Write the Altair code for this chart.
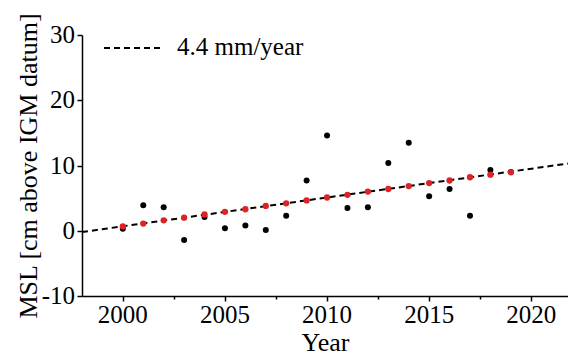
import altair as alt
import pandas as pd

years = list(range(2000, 2020))
msl_observed = [0.3, 3.9, 3.6, -1.4, 2.1, 0.4, 0.8, 0.1, 2.3, 7.7,
                14.6, 3.5, 3.6, 10.4, 13.5, 5.3, 6.4, 2.3, 9.3, 9.0]
msl_trend = [0.66, 1.1, 1.6, 2.0, 2.5, 2.9, 3.3, 3.8, 4.2, 4.65,
             5.1, 5.5, 6.0, 6.4, 6.85, 7.3, 7.7, 8.2, 8.6, 8.95]
trend_line_years = [1998, 2021.8]
trend_line_values = [-0.2, 10.3]
trend_label = "4.4 mm/year"

x_ticks = [2000, 2002.5, 2005, 2007.5, 2010, 2012.5, 2015, 2017.5, 2020]
y_ticks = [-10, -5, 0, 5, 10, 15, 20, 25, 30]
x_label_values = [2000, 2005, 2010, 2015, 2020]
y_label_values = [-10, 0, 10, 20, 30]

obs_df = pd.DataFrame({"year": years, "msl": msl_observed})
trend_df = pd.DataFrame({"year": years, "msl": msl_trend})
line_df = pd.DataFrame({"year": trend_line_years, "msl": trend_line_values,
                        "series": [trend_label] * len(trend_line_years)})
xlab_df = pd.DataFrame({"year": x_label_values, "label": [str(v) for v in x_label_values]})
ylab_df = pd.DataFrame({"msl": y_label_values, "label": [str(v) for v in y_label_values]})
leg_df = pd.DataFrame({"label": [trend_label]})

FONT = "Liberation Serif"

x_enc = alt.X("year:Q",
              scale=alt.Scale(domain=[1998, 2021.8], nice=False, zero=False),
              axis=alt.Axis(values=x_ticks, title="Year", labels=False,
                            tickSize={"condition": {"test": "datum.value % 5 === 0", "value": 5}, "value": 3},
                            titlePadding=28))
y_enc = alt.Y("msl:Q",
              scale=alt.Scale(domain=[-10, 30], nice=False),
              axis=alt.Axis(values=y_ticks, title="MSL [cm above IGM datum]", labels=False,
                            tickSize={"condition": {"test": "datum.value % 10 === 0", "value": 5}, "value": 3},
                            titlePadding=35))

line = alt.Chart(line_df).mark_line(strokeWidth=2, color="black", clip=True).encode(
    x=x_enc, y=y_enc,
    strokeDash=alt.StrokeDash("series:N",
                              scale=alt.Scale(domain=[trend_label], range=[[6, 4]]),
                              legend=alt.Legend(title=None, orient="none", legendX=21, legendY=-18,
                                                symbolType="stroke", symbolSize=3600,
                                                symbolStrokeWidth=2, symbolStrokeColor="black",
                                                labelExpr="''", labelOffset=0, padding=0)),
)

obs = alt.Chart(obs_df).mark_circle(size=36, color="black", opacity=1).encode(x="year:Q", y="msl:Q")
trend = alt.Chart(trend_df).mark_circle(size=40, color="#dc2428", opacity=1).encode(x="year:Q", y="msl:Q")

x_labels = alt.Chart(xlab_df).mark_text(font=FONT, fontSize=25, color="black",
                                        align="center", baseline="alphabetic").encode(
    x="year:Q", y=alt.value(288), text="label:N")
y_labels = alt.Chart(ylab_df).mark_text(font=FONT, fontSize=25, color="black",
                                        align="right", baseline="middle").encode(
    y="msl:Q", x=alt.value(-7), text="label:N")
legend_text = alt.Chart(leg_df).mark_text(font=FONT, fontSize=25, color="black",
                                          align="left", baseline="alphabetic").encode(
    x=alt.value(95), y=alt.value(20), text="label:N")

chart = alt.layer(line, obs, trend, x_labels, y_labels, legend_text).properties(
    width=486, height=261,
    autosize=alt.AutoSizeParams(type="none"),
    padding={"left": 82, "top": 35, "right": 0, "bottom": 64},
).configure_view(stroke=None).configure_axis(
    titleFont=FONT, titleFontSize=26, titleFontWeight="normal", titleColor="black",
    domainColor="black", domainWidth=1.5, tickColor="black", tickWidth=1.5,
    grid=False,
)

chart.save("out.html", embed_options={"renderer": "svg", "actions": False})
